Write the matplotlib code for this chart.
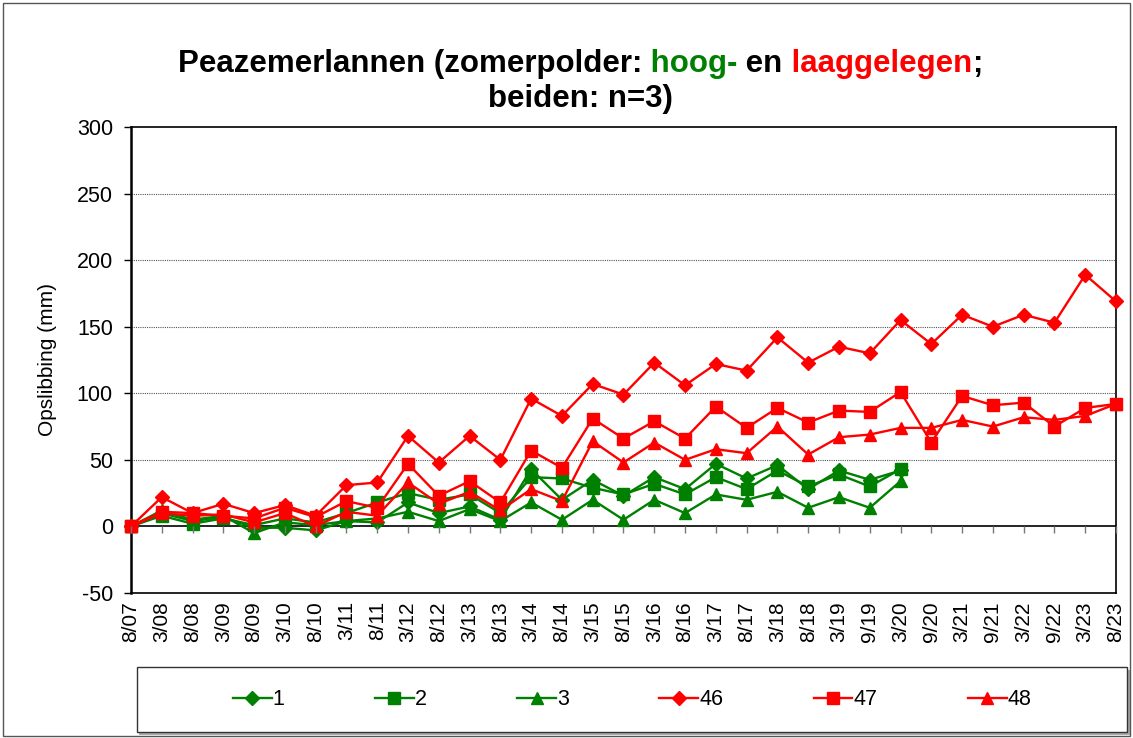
import matplotlib
matplotlib.use('Agg')
import matplotlib.pyplot as plt
import numpy as np
from matplotlib.patches import Rectangle

plt.rcParams['font.family'] = ['Liberation Sans', 'DejaVu Sans']
plt.rcParams['axes.unicode_minus'] = False

# --- data ---
dates = ['8/07', '3/08', '8/08', '3/09', '8/09', '3/10', '8/10', '3/11', '8/11',
         '3/12', '8/12', '3/13', '8/13', '3/14', '8/14', '3/15', '8/15', '3/16',
         '8/16', '3/17', '8/17', '3/18', '8/18', '3/19', '9/19', '3/20', '9/20',
         '3/21', '9/21', '3/22', '9/22', '3/23', '8/23']

# hooggelegen (green), measured up to 3/20
s1 = [0, 10, 4, 7, -1, -1, -3, 4, 3, 18, 10, 15, 5, 43, 20, 35, 23, 37, 28, 47,
      36, 46, 28, 42, 35, 42]
s2 = [0, 8, 2, 6, 1, 6, 3, 10, 18, 25, 20, 24, 10, 37, 36, 29, 24, 32, 24, 37,
      28, 42, 30, 39, 30, 43]
s3 = [0, 12, 5, 8, -5, 3, 1, 4, 6, 11, 4, 13, 4, 18, 5, 20, 5, 20, 10, 24,
      20, 26, 14, 22, 14, 34]

# laaggelegen (red)
s46 = [0, 22, 10, 17, 10, 16, 8, 31, 33, 68, 48, 68, 50, 96, 83, 107, 99, 123,
       106, 122, 117, 142, 123, 135, 130, 155, 137, 159, 150, 159, 153, 189, 169]
s47 = [0, 11, 10, 8, 6, 14, 7, 19, 14, 47, 23, 34, 18, 57, 44, 81, 66, 79,
       66, 90, 74, 89, 78, 87, 86, 101, 63, 98, 91, 93, 75, 89, 92]
s48 = [0, 10, 8, 9, 3, 10, 0, 11, 8, 33, 17, 26, 12, 28, 19, 64, 48, 63,
       50, 58, 55, 75, 54, 67, 69, 74, 74, 80, 75, 82, 80, 83, 92]

GREEN = '#008000'
RED = '#FF0000'

series = [
    ('1', s1, GREEN, 'D', 7),
    ('2', s2, GREEN, 's', 8.5),
    ('3', s3, GREEN, '^', 9),
    ('46', s46, RED, 'D', 7),
    ('47', s47, RED, 's', 8.5),
    ('48', s48, RED, '^', 9),
]

fig = plt.figure(figsize=(11.33, 7.38), dpi=100)
ax = fig.add_axes([0.1156, 0.1965, 0.8694, 0.6314])

for name, vals, col, mk, ms in series:
    x = np.arange(len(vals))
    ax.plot(x, vals, color=col, marker=mk, markersize=ms, linewidth=1.7,
            markeredgecolor=col, label=name, clip_on=False, zorder=3)

ax.set_xlim(0, len(dates) - 1)
ax.set_ylim(-50, 300)
ax.set_yticks(np.arange(-50, 301, 50))
ax.tick_params(axis='y', labelsize=15.5, direction='out', length=5, width=1, pad=8)
ax.set_xticks(np.arange(len(dates)))
ax.set_xticklabels(dates, rotation=90, fontsize=15)
ax.tick_params(axis='x', length=0, pad=6)

for y in [50, 100, 150, 200, 250]:
    ax.axhline(y, color='#555555', linestyle=(0, (1, 1)), linewidth=0.8, zorder=1)
ax.axhline(0, color='black', linewidth=1.2, zorder=2)

for sp in ax.spines.values():
    sp.set_color('black')
    sp.set_linewidth(1.2)
ax.spines['left'].set_linewidth(1.8)

# category tick marks on the zero line
axt = ax.twiny()
axt.set_xlim(ax.get_xlim())
axt.set_xticks(np.arange(len(dates)))
axt.xaxis.set_ticks_position('bottom')
axt.spines['bottom'].set_position(('data', 0))
for sp in axt.spines.values():
    sp.set_visible(False)
axt.tick_params(axis='x', direction='out', length=5, width=1, color='#777777',
                labelbottom=False, labeltop=False)

ax.set_ylabel('Opslibbing (mm)', fontsize=15, labelpad=14)

# --- title with coloured words (chained text pieces) ---
tfs = 22.5
W = fig.get_figwidth() * fig.dpi
cx = 580
parts = [('Peazemerlannen (zomerpolder:', 'black'),
         (' hoog-', GREEN),
         (' en', 'black'),
         (' laaggelegen', RED),
         (';', 'black')]
first = fig.text(0, 0.903, parts[0][0], fontsize=tfs, fontweight='bold',
                 color=parts[0][1], ha='left', va='baseline')
prev = first
pieces = [first]
for s, col in parts[1:]:
    prev = fig.text(0, 0, s, fontsize=tfs, fontweight='bold', color=col,
                    ha='left', va='baseline')
    pieces.append(prev)

renderer = fig.canvas.get_renderer()
xpos = 0.0
for t in pieces:
    t.set_x(xpos / W)
    t.set_y(0.903)
    xpos += t.get_window_extent(renderer).width
shift = cx - xpos / 2
xpos = shift
for t in pieces:
    t.set_x(xpos / W)
    xpos += t.get_window_extent(renderer).width

fig.text(cx / W, 0.855, 'beiden: n=3)', fontsize=tfs, fontweight='bold',
         ha='center', va='baseline')

# --- legend ---
box = (0.121, 0.008, 0.874, 0.088)
fig.patches.append(Rectangle((box[0] + 0.002, box[1] - 0.004), box[2], box[3],
                             transform=fig.transFigure, facecolor='#aaaaaa',
                             edgecolor='none', zorder=0))
fig.patches.append(Rectangle(box[:2], box[2], box[3], transform=fig.transFigure,
                             facecolor='white', edgecolor='#333333', linewidth=1.0,
                             zorder=0.5))
leg = fig.legend(loc='center', ncol=6,
                 bbox_to_anchor=(box[0] + box[2] / 2, box[1] + box[3] / 2),
                 fontsize=15.5, handlelength=1.8, handletextpad=0.05,
                 columnspacing=4.2, frameon=False)

# chart border
fig.patches.append(Rectangle((0.003, 0.003), 0.994, 0.993, transform=fig.transFigure,
                             fill=False, edgecolor='#555555', linewidth=1.0))

fig.savefig('out.png', dpi=100)
